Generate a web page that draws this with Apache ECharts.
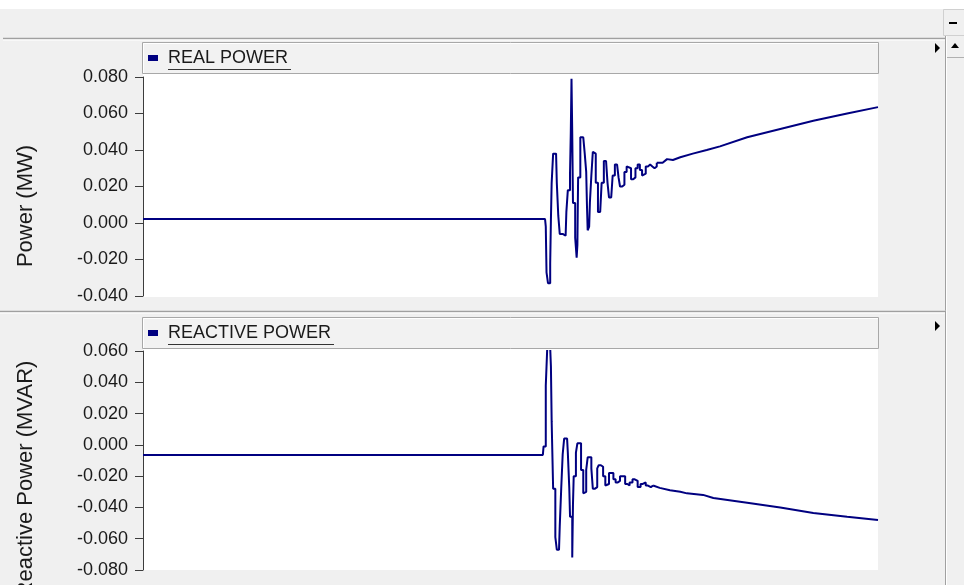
<!DOCTYPE html>
<html>
<head>
<meta charset="utf-8">
<title>Real / Reactive Power</title>
<script src="https://cdn.jsdelivr.net/npm/echarts@6/dist/echarts.min.js"></script>
<style>
  html, body { margin: 0; padding: 0; background: #f0f0f0; }
  #chart { width: 964px; height: 585px; }
</style>
</head>
<body>
<div id="chart"></div>
<script>
// time in s (x axis hidden)
const realTime = [
  0.000, 0.547, 0.548, 0.549, 0.551, 0.553, 0.554, 0.555, 0.556, 0.558,
  0.562, 0.563, 0.565, 0.567, 0.571, 0.575, 0.576, 0.578, 0.581, 0.582,
  0.583, 0.584, 0.585, 0.588, 0.590, 0.591, 0.592, 0.595, 0.599, 0.601,
  0.603, 0.604, 0.605, 0.607, 0.608, 0.610, 0.612, 0.614, 0.616, 0.619,
  0.622, 0.624, 0.627, 0.630, 0.632, 0.634, 0.637, 0.639, 0.642, 0.645,
  0.647, 0.649, 0.652, 0.655, 0.658, 0.660, 0.664, 0.667, 0.670, 0.673,
  0.676, 0.679, 0.681, 0.684, 0.687, 0.690, 0.693, 0.696, 0.699, 0.707,
  0.713, 0.721, 0.731, 0.748, 0.767, 0.785, 0.822, 0.867, 0.912, 0.958,
  1.000
]
const realPower = [
  0.0022, 0.0022, -0.002, -0.027, -0.033, -0.033, -0.022, 0.002, 0.022, 0.038,
  0.037, 0.022, 0.004, -0.006, -0.007, -0.006, 0.006, 0.018, 0.028, 0.049,
  0.079, 0.049, 0.011, -0.008, -0.019, -0.012, 0.025, 0.047, 0.047, 0.038,
  0.028, 0.010, -0.004, -0.002, 0.011, 0.026, 0.039, 0.038, 0.022, 0.006,
  0.007, 0.022, 0.034, 0.033, 0.022, 0.014, 0.015, 0.026, 0.032, 0.031,
  0.025, 0.020, 0.021, 0.028, 0.031, 0.030, 0.024, 0.025, 0.030, 0.032,
  0.029, 0.026, 0.027, 0.031, 0.032, 0.031, 0.030, 0.031, 0.033, 0.033,
  0.035, 0.0345, 0.036, 0.038, 0.040, 0.042, 0.047, 0.0515, 0.056, 0.060,
  0.0635
]

const reactiveTime = [
  0.000, 0.544, 0.545, 0.548, 0.550, 0.554, 0.555, 0.556, 0.558, 0.561,
  0.563, 0.566, 0.567, 0.569, 0.571, 0.573, 0.577, 0.578, 0.580, 0.581,
  0.584, 0.585, 0.586, 0.589, 0.591, 0.593, 0.596, 0.599, 0.600, 0.603,
  0.605, 0.607, 0.610, 0.612, 0.615, 0.618, 0.620, 0.623, 0.626, 0.629,
  0.631, 0.634, 0.637, 0.640, 0.643, 0.646, 0.649, 0.652, 0.656, 0.659,
  0.662, 0.666, 0.669, 0.673, 0.677, 0.680, 0.684, 0.687, 0.691, 0.694,
  0.703, 0.717, 0.731, 0.740, 0.762, 0.776, 0.822, 0.867, 0.912, 0.958,
  1.000
]
const reactivePower = [
  -0.0065, -0.0065, -0.001, 0.038, 0.062, 0.062, 0.050, 0.015, -0.028, -0.059,
  -0.067, -0.066, -0.052, -0.028, -0.006, 0.004, 0.003, -0.005, -0.028, -0.046,
  -0.072, -0.038, -0.020, -0.005, 0.001, 0.001, -0.016, -0.031, -0.030, -0.016,
  -0.008, -0.008, -0.015, -0.028, -0.027, -0.015, -0.013, -0.014, -0.020, -0.026,
  -0.025, -0.018, -0.018, -0.022, -0.024, -0.023, -0.020, -0.020, -0.025, -0.026,
  -0.024, -0.022, -0.023, -0.027, -0.025, -0.024, -0.026, -0.027, -0.026, -0.026,
  -0.0275, -0.029, -0.030, -0.031, -0.032, -0.034, -0.037, -0.040, -0.0435, -0.046,
  -0.048
]

// y tick values
const realTicks = [-0.04, -0.02, 0.00, 0.02, 0.04, 0.06, 0.08]
const reactiveTicks = [-0.08, -0.06, -0.04, -0.02, 0.00, 0.02, 0.04, 0.06]

// the transient is drawn as a held (stepped) trace, the slow drift after it as a plain line
const STEP_UNTIL = 0.70

const FONT = 'Liberation Sans, Arial, sans-serif'
const LINE = '#000080'
const AXIS = '#3c3c3c'

const chart = echarts.init(document.getElementById('chart'), null, { renderer: 'canvas' })

function zip(t, v) {
  return t.map((x, i) => [x, v[i]])
}

function fmt(v) {
  if (Math.abs(v) < 1e-9) return '0.000'
  return v.toFixed(3)
}

function yAxisFor(gridIndex, ticks) {
  return {
    type: 'value',
    gridIndex,
    min: ticks[0],
    max: ticks[ticks.length - 1],
    interval: 0.02,
    axisLine: { show: true, lineStyle: { color: AXIS, width: 1 } },
    axisTick: { show: true, length: 8, lineStyle: { color: AXIS } },
    axisLabel: {
      color: '#1a1a1a', fontSize: 18, fontFamily: FONT, margin: 15,
      formatter: fmt
    },
    splitLine: { show: false }
  }
}

// two line series per panel: stepped transient + straight tail, same look
function traceSeries(name, idx, t, v) {
  const pts = zip(t, v)
  const lastStep = pts.filter(p => p[0] <= STEP_UNTIL)
  const tail = pts.filter(p => p[0] >= lastStep[lastStep.length - 1][0])
  const common = {
    type: 'line', xAxisIndex: idx, yAxisIndex: idx,
    showSymbol: false, clip: true, z: 5,
    lineStyle: { color: LINE, width: 2 }
  }
  return [
    { ...common, name, step: 'end', data: lastStep },
    { ...common, name: name + ' tail', data: tail }
  ]
}

// panel chrome: title bars, legend squares, separators, scrollbar
function titleBar(y, text) {
  return [
    { type: 'rect', z: 1, shape: { x: 142.5, y: y + 0.5, width: 736, height: 31 },
      style: { fill: '#f2f2f2', stroke: '#a8a8a8', lineWidth: 1 } },
    { type: 'polyline', z: 1, shape: { points: [[143.5, y + 31], [143.5, y + 1.5], [878, y + 1.5]] },
      style: { stroke: '#ffffff', lineWidth: 1, fill: null } },
    { type: 'rect', z: 2, shape: { x: 148, y: y + 13, width: 10, height: 6 },
      style: { fill: LINE } },
    { type: 'text', z: 2, x: 168, y: y + 16,
      style: { text, fill: '#1a1a1a', font: '18px ' + FONT, textVerticalAlign: 'middle' } }
  ]
}

const graphics = [
  // white strip at top and toolbar separator
  { type: 'rect', z: 0, shape: { x: 0, y: 0, width: 964, height: 9 }, style: { fill: '#ffffff' } },
  { type: 'line', z: 1, shape: { x1: 3, y1: 38.5, x2: 945, y2: 38.5 }, style: { stroke: '#a0a0a0', lineWidth: 1.5 } },
  { type: 'line', z: 1, shape: { x1: 3, y1: 40, x2: 945, y2: 40 }, style: { stroke: '#ffffff', lineWidth: 1 } },
  // minus button
  { type: 'rect', z: 1, shape: { x: 943.5, y: 9.5, width: 21, height: 26 }, style: { fill: '#f0f0f0', stroke: '#d0d0d0' } },
  { type: 'line', z: 2, shape: { x1: 949, y1: 23, x2: 957, y2: 23 }, style: { stroke: '#000', lineWidth: 2 } },
  // scrollbar
  { type: 'line', z: 1, shape: { x1: 945.5, y1: 36, x2: 945.5, y2: 585 }, style: { stroke: '#a0a0a0', lineWidth: 1 } },
  { type: 'line', z: 1, shape: { x1: 946.5, y1: 36, x2: 946.5, y2: 585 }, style: { stroke: '#ffffff', lineWidth: 1 } },
  { type: 'line', z: 1, shape: { x1: 947, y1: 57.5, x2: 964, y2: 57.5 }, style: { stroke: '#b0b0b0', lineWidth: 1 } },
  { type: 'polygon', z: 2, shape: { points: [[951, 48], [959, 48], [955, 43]] }, style: { fill: '#000' } },
  // panel separator
  { type: 'line', z: 1, shape: { x1: 0, y1: 311.5, x2: 945, y2: 311.5 }, style: { stroke: '#a0a0a0', lineWidth: 1.5 } },
  { type: 'line', z: 1, shape: { x1: 0, y1: 313, x2: 945, y2: 313 }, style: { stroke: '#ffffff', lineWidth: 1 } },
  // panel arrows
  { type: 'polygon', z: 2, shape: { points: [[935, 43], [935, 53], [940, 48]] }, style: { fill: '#000' } },
  { type: 'polygon', z: 2, shape: { points: [[935, 321], [935, 331], [940, 326]] }, style: { fill: '#000' } },
  // plot backgrounds
  { type: 'rect', z: 0, shape: { x: 143, y: 74, width: 735, height: 223 }, style: { fill: '#ffffff' } },
  { type: 'rect', z: 0, shape: { x: 143, y: 349, width: 735, height: 221 }, style: { fill: '#ffffff' } },
  ...titleBar(42, 'REAL POWER'),
  ...titleBar(317, 'REACTIVE POWER'),
  // underlines of the titles
  { type: 'line', z: 2, shape: { x1: 168, y1: 69.5, x2: 291, y2: 69.5 }, style: { stroke: '#333', lineWidth: 1 } },
  { type: 'line', z: 2, shape: { x1: 168, y1: 344.5, x2: 334, y2: 344.5 }, style: { stroke: '#333', lineWidth: 1 } },
  // y axis names
  { type: 'text', z: 1, x: 26, y: 206, rotation: Math.PI / 2,
    style: { text: 'Power (MW)', fill: '#1a1a1a', font: '22px ' + FONT, textAlign: 'center', textVerticalAlign: 'middle' } },
  { type: 'text', z: 1, x: 26, y: 479, rotation: Math.PI / 2,
    style: { text: 'Reactive Power (MVAR)', fill: '#1a1a1a', font: '22px ' + FONT, textAlign: 'center', textVerticalAlign: 'middle' } },
  // the lower label is clipped at the top of its panel
  { type: 'rect', z: 3, shape: { x: 8, y: 314, width: 36, height: 47 }, style: { fill: '#f0f0f0' } }
]

chart.setOption({
  backgroundColor: '#f0f0f0',
  animation: false,
  grid: [
    { left: 143, top: 77, width: 735, height: 219 },
    { left: 143, top: 351, width: 735, height: 219 }
  ],
  xAxis: [
    { type: 'value', gridIndex: 0, min: 0, max: 1, show: false },
    { type: 'value', gridIndex: 1, min: 0, max: 1, show: false }
  ],
  yAxis: [
    yAxisFor(0, realTicks),
    yAxisFor(1, reactiveTicks)
  ],
  graphic: graphics,
  series: [
    ...traceSeries('REAL POWER', 0, realTime, realPower),
    ...traceSeries('REACTIVE POWER', 1, reactiveTime, reactivePower)
  ]
})

window.addEventListener('resize', () => chart.resize())
</script>
</body>
</html>
